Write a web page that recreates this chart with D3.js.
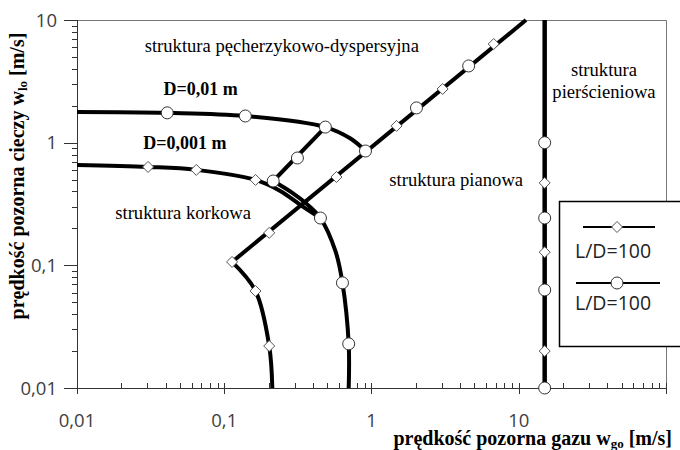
<!DOCTYPE html>
<html>
<head>
<meta charset="utf-8">
<script src="https://cdn.jsdelivr.net/npm/d3@7"></script>
<style>
  body { margin: 0; background: #fff; }
  svg { display: block; }
  .serif { font-family: "Liberation Serif", "Times New Roman", serif; }
  .sans { font-family: "Open Sans", "DejaVu Sans", sans-serif; }
</style>
</head>
<body>
<div id="chart"></div>
<script>
// --- data (log-log, m/s) ---
var xTicks = [0.01, 0.1, 1, 10];
var yTicks = [0.01, 0.1, 1, 10];
var xTickLabels = ["0,01", "0,1", "1", "10"];
var yTickLabels = ["0,01", "0,1", "1", "10"];

// D=0,01 m (circles)
var circTop = [[0.01, 1.78], [0.041, 1.75], [0.139, 1.65], [0.486, 1.34], [0.72, 1.08], [0.91, 0.855]];
var circBranch = [[0.215, 0.487], [0.314, 0.75], [0.486, 1.34]];
var circDown = [[0.215, 0.487], [0.29, 0.39], [0.356, 0.323], [0.45, 0.243], [0.57, 0.13], [0.635, 0.072], [0.70, 0.0229], [0.70, 0.01]];
var circMarks = [[0.041, 1.75], [0.139, 1.65], [0.486, 1.34], [0.91, 0.855], [0.215, 0.487], [0.314, 0.75],
                 [0.45, 0.243], [0.635, 0.072], [0.70, 0.0229], [2.02, 1.92], [4.57, 4.22]];

// D=0,001 m (diamonds)
var diamTop = [[0.01, 0.658], [0.0304, 0.634], [0.0646, 0.600], [0.163, 0.497], [0.24, 0.404], [0.33, 0.31], [0.45, 0.243]];
var diamDiag = [[0.113, 0.1066], [0.202, 0.184], [0.578, 0.525], [0.91, 0.855], [1.48, 1.37], [3.04, 2.74], [6.76, 6.37], [11.2, 10]];
var diamLow = [[0.113, 0.1066], [0.163, 0.0618], [0.202, 0.022], [0.212, 0.01]];
var diamMarks = [[0.0304, 0.634], [0.0646, 0.600], [0.163, 0.497], [0.113, 0.1066], [0.202, 0.184], [0.578, 0.525],
                 [1.48, 1.37], [3.04, 2.74], [6.76, 6.37], [0.163, 0.0618], [0.202, 0.022]];

// annular transition, both diameters
var annularX = 15;
var annularY = [0.01, 10];
var annularCirc = [1.0, 0.243, 0.063, 0.01];
var annularDiam = [0.47, 0.128, 0.020];

var regionLabels = [
  { t: "struktura pęcherzykowo-dyspersyjna", x: 0.246, y: 5.48 },
  { t: "struktura pianowa", x: 3.76, y: 0.44 },
  { t: "struktura korkowa", x: 0.0526, y: 0.24 }
];
var diameterLabels = [
  { t: "D=0,01 m", x: 0.069, y: 2.45 },
  { t: "D=0,001 m", x: 0.054, y: 0.89 }
];
var legendLabels = ["L/D=100", "L/D=100"];

// --- layout ---
var width = 680, height = 450;
var m = { left: 77, top: 20, right: 666, bottom: 388 };

var svg = d3.select("#chart").append("svg")
    .attr("width", width)
    .attr("height", height);

var x = d3.scaleLog().domain([0.01, 100]).range([m.left, m.right]);
var y = d3.scaleLog().domain([0.01, 10]).range([m.bottom, m.top]);

// frame
svg.append("path")
    .attr("d", "M" + m.left + "," + (m.top + 0.5) + "H" + (m.right + 0.5) + "V" + m.bottom)
    .attr("fill", "none").attr("stroke", "#777").attr("stroke-width", 1);

// x axis: minor ticks point up, majors down
var xMinor = [];
[0.01, 0.1, 1, 10].forEach(function (d) { for (var k = 2; k <= 9; k++) xMinor.push(d * k); });
var gx = svg.append("g");
gx.append("line").attr("x1", m.left).attr("x2", m.right).attr("y1", m.bottom + 0.5).attr("y2", m.bottom + 0.5)
    .attr("stroke", "#333").attr("stroke-width", 1);
gx.selectAll(".mi").data(xMinor).enter().append("line")
    .attr("x1", function (d) { return Math.round(x(d)) + 0.5; })
    .attr("x2", function (d) { return Math.round(x(d)) + 0.5; })
    .attr("y1", m.bottom).attr("y2", m.bottom - 5)
    .attr("stroke", "#333");
gx.selectAll(".ma").data(xTicks.concat([100])).enter().append("line")
    .attr("x1", function (d) { return Math.round(x(d)) + 0.5; })
    .attr("x2", function (d) { return Math.round(x(d)) + 0.5; })
    .attr("y1", m.bottom - 5).attr("y2", m.bottom + 6)
    .attr("stroke", "#333");
gx.selectAll("text").data(xTicks).enter().append("text")
    .attr("class", "sans")
    .attr("x", function (d) { return x(d); })
    .attr("y", m.bottom + 39)
    .attr("text-anchor", "middle")
    .attr("font-size", 18.5)
    .attr("fill", "#404040")
    .text(function (d, i) { return xTickLabels[i]; });

// y axis
var yMinor = [];
[0.01, 0.1, 1].forEach(function (d) { for (var k = 2; k <= 9; k++) yMinor.push(d * k); });
var gy = svg.append("g");
gy.append("line").attr("x1", m.left + 0.5).attr("x2", m.left + 0.5).attr("y1", m.top).attr("y2", m.bottom)
    .attr("stroke", "#333");
gy.selectAll(".mi").data(yMinor).enter().append("line")
    .attr("y1", function (d) { return Math.round(y(d)) + 0.5; })
    .attr("y2", function (d) { return Math.round(y(d)) + 0.5; })
    .attr("x1", m.left - 5).attr("x2", m.left)
    .attr("stroke", "#333");
gy.selectAll(".ma").data(yTicks).enter().append("line")
    .attr("y1", function (d) { return Math.round(y(d)) + 0.5; })
    .attr("y2", function (d) { return Math.round(y(d)) + 0.5; })
    .attr("x1", m.left - 13).attr("x2", m.left)
    .attr("stroke", "#333");
gy.selectAll("text").data(yTicks).enter().append("text")
    .attr("class", "sans")
    .attr("x", m.left - 20)
    .attr("y", function (d) { return y(d) + 6.5; })
    .attr("text-anchor", "end")
    .attr("font-size", 18.5)
    .attr("fill", "#404040")
    .text(function (d, i) { return yTickLabels[i]; });

// curves
var line = d3.line()
    .x(function (d) { return x(d[0]); })
    .y(function (d) { return y(d[1]); })
    .curve(d3.curveCatmullRom.alpha(0.5));
var straight = d3.line()
    .x(function (d) { return x(d[0]); })
    .y(function (d) { return y(d[1]); });

var curves = svg.append("g").attr("fill", "none").attr("stroke", "#000").attr("stroke-width", 4)
    .attr("stroke-linejoin", "round");
[circTop, circDown, diamTop, diamLow].forEach(function (c) {
  curves.append("path").attr("d", line(c));
});
[circBranch, diamDiag].forEach(function (c) {
  curves.append("path").attr("d", straight([c[0], c[c.length - 1]]));
});
curves.append("path").attr("d", straight(annularY.map(function (v) { return [annularX, v]; })))
    .attr("stroke-width", 4.5);

// markers
function diamond(g, cx, cy, r) {
  g.append("path")
    .attr("d", "M" + cx + "," + (cy - r) + "L" + (cx + r) + "," + cy + "L" + cx + "," + (cy + r) + "L" + (cx - r) + "," + cy + "Z")
    .attr("fill", "#fff").attr("stroke", "#555").attr("stroke-width", 1);
}
var mk = svg.append("g");
diamMarks.concat(annularDiam.map(function (v) { return [annularX, v]; })).forEach(function (d) {
  diamond(mk, x(d[0]), y(d[1]), 5.5);
});
mk.selectAll("circle").data(circMarks.concat(annularCirc.map(function (v) { return [annularX, v]; })))
  .enter().append("circle")
    .attr("cx", function (d) { return x(d[0]); })
    .attr("cy", function (d) { return y(d[1]); })
    .attr("r", 6)
    .attr("fill", "#fff").attr("stroke", "#333").attr("stroke-width", 1);

// region labels
svg.selectAll(".reg").data(regionLabels).enter().append("text")
    .attr("class", "serif")
    .attr("x", function (d) { return x(d.x); })
    .attr("y", function (d) { return y(d.y); })
    .attr("text-anchor", "middle")
    .attr("font-size", 18.6)
    .text(function (d) { return d.t; });
var ann = svg.append("text").attr("class", "serif").attr("font-size", 18.6).attr("text-anchor", "middle");
ann.append("tspan").attr("x", 604).attr("y", 76).text("struktura");
ann.append("tspan").attr("x", 604).attr("y", 98).text("pierścieniowa");

svg.selectAll(".dia").data(diameterLabels).enter().append("text")
    .attr("class", "serif")
    .attr("font-weight", "bold")
    .attr("font-size", 18)
    .attr("x", function (d) { return x(d.x); })
    .attr("y", function (d) { return y(d.y); })
    .attr("text-anchor", "middle")
    .text(function (d) { return d.t; });

// legend
var lg = svg.append("g");
lg.append("rect").attr("x", 559.5).attr("y", 201.5).attr("width", 140).attr("height", 145)
    .attr("fill", "#fff").attr("stroke", "#000").attr("stroke-width", 1.5);
lg.append("line").attr("x1", 583).attr("x2", 655).attr("y1", 227).attr("y2", 227).attr("stroke", "#000").attr("stroke-width", 2);
diamond(lg, 617, 227, 5.5);
lg.append("line").attr("x1", 576).attr("x2", 660).attr("y1", 283).attr("y2", 283).attr("stroke", "#000").attr("stroke-width", 2);
lg.append("circle").attr("cx", 617).attr("cy", 283).attr("r", 6).attr("fill", "#fff").attr("stroke", "#333");
lg.selectAll("text").data(legendLabels).enter().append("text")
    .attr("class", "sans")
    .attr("x", 575)
    .attr("y", function (d, i) { return 258 + i * 52; })
    .attr("font-size", 19.5)
    .attr("fill", "#222")
    .text(function (d) { return d; });

// axis titles
var xt = svg.append("text").attr("class", "serif").attr("font-weight", "bold").attr("font-size", 20)
    .attr("x", 672).attr("y", 445).attr("text-anchor", "end");
xt.append("tspan").text("prędkość pozorna gazu w");
xt.append("tspan").attr("font-size", 13).attr("dy", 3).text("go");
xt.append("tspan").attr("dy", -3).text(" [m/s]");

var yt = svg.append("text").attr("class", "serif").attr("font-weight", "bold").attr("font-size", 20)
    .attr("transform", "translate(24,176) rotate(-90)")
    .attr("text-anchor", "middle");
yt.append("tspan").text("prędkość pozorna cieczy w");
yt.append("tspan").attr("font-size", 13).attr("dy", 3).text("lo");
yt.append("tspan").attr("dy", -3).text(" [m/s]");
</script>
</body>
</html>
